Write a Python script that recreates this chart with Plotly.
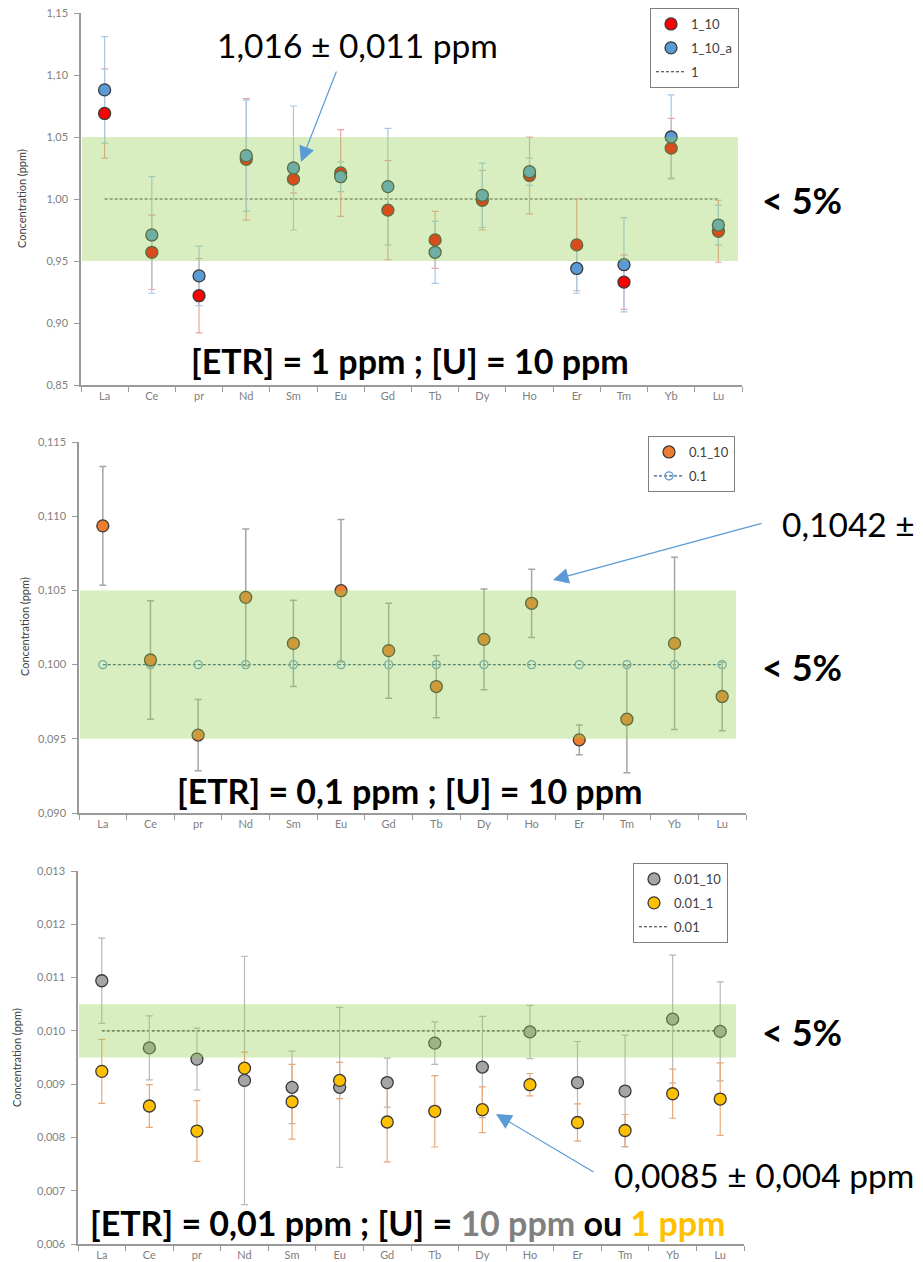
import plotly.graph_objects as go

W, H = 923, 1262

elements = ["La", "Ce", "pr", "Nd", "Sm", "Eu", "Gd", "Tb", "Dy", "Ho", "Er", "Tm", "Yb", "Lu"]

# ---- Panel 1 : [ETR] = 1 ppm ; [U] = 10 ppm
c1_10 = [1.069, 0.957, 0.922, 1.032, 1.016, 1.021, 0.991, 0.967, 0.999, 1.019, 0.963, 0.933, 1.041, 0.974]
e1_10 = [0.036, 0.030, 0.030, 0.049, 0.011, 0.035, 0.040, 0.023, 0.024, 0.031, 0.037, 0.022, 0.024, 0.025]
c1_10a = [1.088, 0.971, 0.938, 1.035, 1.025, 1.018, 1.010, 0.957, 1.003, 1.022, 0.944, 0.947, 1.050, 0.979]
e1_10a = [0.043, 0.047, 0.024, 0.045, 0.050, 0.012, 0.047, 0.025, 0.026, 0.011, 0.020, 0.038, 0.034, 0.016]
ref1 = [1.0, 1.0, 1.0, 1.0, 1.0, 1.0, 1.0, 1.0, 1.0, 1.0, 1.0, 1.0, 1.0, 1.0]

# ---- Panel 2 : [ETR] = 0,1 ppm ; [U] = 10 ppm
c01_10 = [0.10935, 0.10031, 0.09525, 0.10453, 0.10143, 0.10498, 0.10094, 0.09852, 0.10170, 0.10413, 0.09493, 0.09632, 0.10143, 0.09785]
e01_10 = [0.0040, 0.0040, 0.0024, 0.0046, 0.0029, 0.0048, 0.0032, 0.0021, 0.0034, 0.0023, 0.0010, 0.0036, 0.0058, 0.0023]
ref01 = [0.1, 0.1, 0.1, 0.1, 0.1, 0.1, 0.1, 0.1, 0.1, 0.1, 0.1, 0.1, 0.1, 0.1]

# ---- Panel 3 : [ETR] = 0,01 ppm ; [U] = 10 ppm ou 1 ppm
c001_10 = [0.01094, 0.00968, 0.00947, 0.00907, 0.00894, 0.00894, 0.00903, 0.00977, 0.00932, 0.00998, 0.00903, 0.00887, 0.01022, 0.00999]
e001_10 = [0.00080, 0.00060, 0.00058, 0.00233, 0.00068, 0.00150, 0.00046, 0.00040, 0.00095, 0.00050, 0.00077, 0.00105, 0.00120, 0.00093]
c001_1 = [0.00924, 0.00859, 0.00812, 0.00930, 0.00867, 0.00907, 0.00829, 0.00849, 0.00852, 0.00899, 0.00828, 0.00813, 0.00882, 0.00872]
e001_1 = [0.00060, 0.00040, 0.00057, 0.00030, 0.00070, 0.00034, 0.00075, 0.00067, 0.00043, 0.00021, 0.00035, 0.00030, 0.00046, 0.00068]
ref001 = [0.01, 0.01, 0.01, 0.01, 0.01, 0.01, 0.01, 0.01, 0.01, 0.01, 0.01, 0.01, 0.01, 0.01]

FONT = "Lato"
OUTLINE = dict(color="#3A3A3A", width=1.3)
DASH = "3px,2px"


def px_x(p):
    return p / W


def px_y(p):
    return 1 - p / H


fig = go.Figure()


def err_trace(y, err, color, xa, ya, thick=1.2):
    # error bars only (drawn beneath every marker)
    return go.Scatter(x=elements, y=y, mode="markers", showlegend=False, hoverinfo="skip",
                      marker=dict(size=1, color="rgba(0,0,0,0)"),
                      error_y=dict(type="data", array=err, color=color, thickness=thick, width=3.5),
                      xaxis=xa, yaxis=ya)


# ---------- Panel 1
fig.add_trace(go.Scatter(x=elements, y=ref1, mode="lines", name="1",
                         line=dict(color="#303030", dash=DASH, width=1.2),
                         xaxis="x", yaxis="y", legend="legend", legendrank=3, legendgroup="p1c"))
fig.add_trace(err_trace(c1_10, e1_10, "#F2A0A0", "x", "y"))
fig.add_trace(err_trace(c1_10a, e1_10a, "#A8C8E8", "x", "y"))
fig.add_trace(go.Scatter(x=elements, y=c1_10, mode="markers", name="1_10",
                         marker=dict(color="#FF0000", size=12, line=OUTLINE),
                         xaxis="x", yaxis="y", legend="legend", legendrank=1, legendgroup="p1a"))
fig.add_trace(go.Scatter(x=elements, y=c1_10a, mode="markers", name="1_10_a",
                         marker=dict(color="#5B9BD5", size=12, line=OUTLINE),
                         xaxis="x", yaxis="y", legend="legend", legendrank=2, legendgroup="p1b"))

# ---------- Panel 2
fig.add_trace(go.Scatter(x=elements, y=ref01, mode="lines+markers", name="0.1",
                         line=dict(color="#3A5F7A", dash=DASH, width=1.2),
                         marker=dict(symbol="circle-open", color="#5B9BD5", size=8, line=dict(width=1.3)),
                         xaxis="x2", yaxis="y2", legend="legend2", legendrank=2, legendgroup="p2b"))
fig.add_trace(err_trace(c01_10, e01_10, "#A6A6A6", "x2", "y2", thick=1.5))
fig.add_trace(go.Scatter(x=elements, y=c01_10, mode="markers", name="0.1_10",
                         marker=dict(color="#ED7D31", size=12, line=OUTLINE),
                         xaxis="x2", yaxis="y2", legend="legend2", legendrank=1, legendgroup="p2a"))

# ---------- Panel 3
fig.add_trace(go.Scatter(x=elements, y=ref001, mode="lines", name="0.01",
                         line=dict(color="#303030", dash=DASH, width=1.2),
                         xaxis="x3", yaxis="y3", legend="legend3", legendrank=3, legendgroup="p3c"))
fig.add_trace(err_trace(c001_10, e001_10, "#B8B8B8", "x3", "y3"))
fig.add_trace(err_trace(c001_1, e001_1, "#E8A878", "x3", "y3"))
fig.add_trace(go.Scatter(x=elements, y=c001_10, mode="markers", name="0.01_10",
                         marker=dict(color="#A5A5A5", size=12, line=OUTLINE),
                         xaxis="x3", yaxis="y3", legend="legend3", legendrank=1, legendgroup="p3a"))
fig.add_trace(go.Scatter(x=elements, y=c001_1, mode="markers", name="0.01_1",
                         marker=dict(color="#FFC000", size=12, line=OUTLINE),
                         xaxis="x3", yaxis="y3", legend="legend3", legendrank=2, legendgroup="p3b"))

# ---------- Axes
panels = [
    ("xaxis", "yaxis", (81, 742), (13, 385), (0.85, 1.15), 0.05, ".2f"),
    ("xaxis2", "yaxis2", (79, 746), (442, 813), (0.090, 0.115), 0.005, ".3f"),
    ("xaxis3", "yaxis3", (78, 744), (871, 1244), (0.006, 0.013), 0.001, ".3f"),
]
axis_color = "#9A9A9A"
tick_font = dict(family=FONT, size=11, color="#808080")
layout_axes = {}
for i, (xk, yk, xr, yr, yrange, dt, fmt) in enumerate(panels):
    sfx = "" if i == 0 else str(i + 1)
    layout_axes[xk] = dict(
        domain=[px_x(xr[0]), px_x(xr[1])], anchor="y" + sfx, type="category",
        range=[-0.5, 13.5], showline=True, linecolor=axis_color, linewidth=1.5,
        ticks="outside", tickson="boundaries", ticklen=5, tickcolor=axis_color,
        tickfont=tick_font, showgrid=False, zeroline=False, automargin=False,
    )
    layout_axes[yk] = dict(
        domain=[px_y(yr[1]), px_y(yr[0])], anchor="x" + sfx,
        range=list(yrange), dtick=dt, tick0=yrange[0], tickformat=fmt,
        showline=True, linecolor=axis_color, linewidth=1.5,
        ticks="outside", ticklen=5, tickcolor=axis_color, ticklabelstandoff=4,
        tickfont=tick_font, showgrid=False, zeroline=False, automargin=False,
    )

# ---------- Green +/-5 % bands (semi-transparent, above the marks)
band_fill = "rgba(146,208,80,0.36)"
shapes = [
    dict(type="rect", xref="paper", yref="y", x0=px_x(82), x1=px_x(738), y0=0.95, y1=1.05,
         fillcolor=band_fill, line=dict(width=0), layer="above"),
    dict(type="rect", xref="paper", yref="y2", x0=px_x(80), x1=px_x(736), y0=0.095, y1=0.105,
         fillcolor=band_fill, line=dict(width=0), layer="above"),
    dict(type="rect", xref="paper", yref="y3", x0=px_x(79), x1=px_x(736), y0=0.0095, y1=0.0105,
         fillcolor=band_fill, line=dict(width=0), layer="above"),
]


def text_ann(text, px, py, size, color="black", xanchor="center", angle=0, family=FONT):
    return dict(text=text, x=px_x(px), y=px_y(py), xref="paper", yref="paper",
                showarrow=False, xanchor=xanchor, yanchor="middle", textangle=angle,
                font=dict(family=family, size=size, color=color))


def arrow_ann(tail, tip):
    return dict(text="", x=px_x(tip[0]), y=px_y(tip[1]), xref="paper", yref="paper",
                ax=tail[0] - tip[0], ay=tail[1] - tip[1], axref="pixel", ayref="pixel",
                showarrow=True, arrowhead=2, arrowsize=2.6, arrowwidth=1.2,
                arrowcolor="#5B9BD5", standoff=0)


annotations = [
    text_ann("Concentration (ppm)", 22, 199, 11, color="#404040", angle=-90),
    text_ann("Concentration (ppm)", 24, 627, 11, color="#404040", angle=-90),
    text_ann("Concentration (ppm)", 16, 1058, 11, color="#404040", angle=-90),
    text_ann("1,016 ± 0,011 ppm", 357, 45, 33.5),
    arrow_ann((337, 70), (301, 162)),
    text_ann("0,1042 ±", 780, 524, 33.5, xanchor="left"),
    arrow_ann((763, 523), (553, 580)),
    text_ann("0,0085 ± 0,004 ppm", 612, 1175, 33.5, xanchor="left"),
    arrow_ann((595, 1173), (496, 1114)),
    text_ann("<b>< 5%</b>", 802, 200, 36),
    text_ann("<b>< 5%</b>", 802, 667, 36),
    text_ann("<b>< 5%</b>", 802, 1032, 36),
    text_ann("<b>[ETR] = 1 ppm ; [U] = 10 ppm</b>", 410, 360, 34),
    text_ann("<b>[ETR] = 0,1 ppm ; [U] = 10 ppm</b>", 409, 790, 34),
    text_ann("<b>[ETR] = 0,01 ppm ; [U] = <span style='color:#808080'>10 ppm</span> ou "
             "<span style='color:#FFC000'>1 ppm</span></b>", 408, 1222, 34),
]

legend_common = dict(xanchor="left", yanchor="top", bordercolor="#7F7F7F", borderwidth=1,
                     bgcolor="white", font=dict(family=FONT, size=13, color="#404040"),
                     traceorder="grouped", tracegroupgap=4)

fig.update_layout(
    width=W, height=H,
    margin=dict(l=0, r=0, t=0, b=0),
    paper_bgcolor="white", plot_bgcolor="white",
    separators=", ",
    font=dict(family=FONT),
    showlegend=True,
    legend=dict(x=px_x(650), y=px_y(8), **legend_common),
    legend2=dict(x=px_x(648), y=px_y(436), **legend_common),
    legend3=dict(x=px_x(633), y=px_y(863), **legend_common),
    shapes=shapes,
    annotations=annotations,
    **layout_axes,
)

fig.write_html("out.html")
